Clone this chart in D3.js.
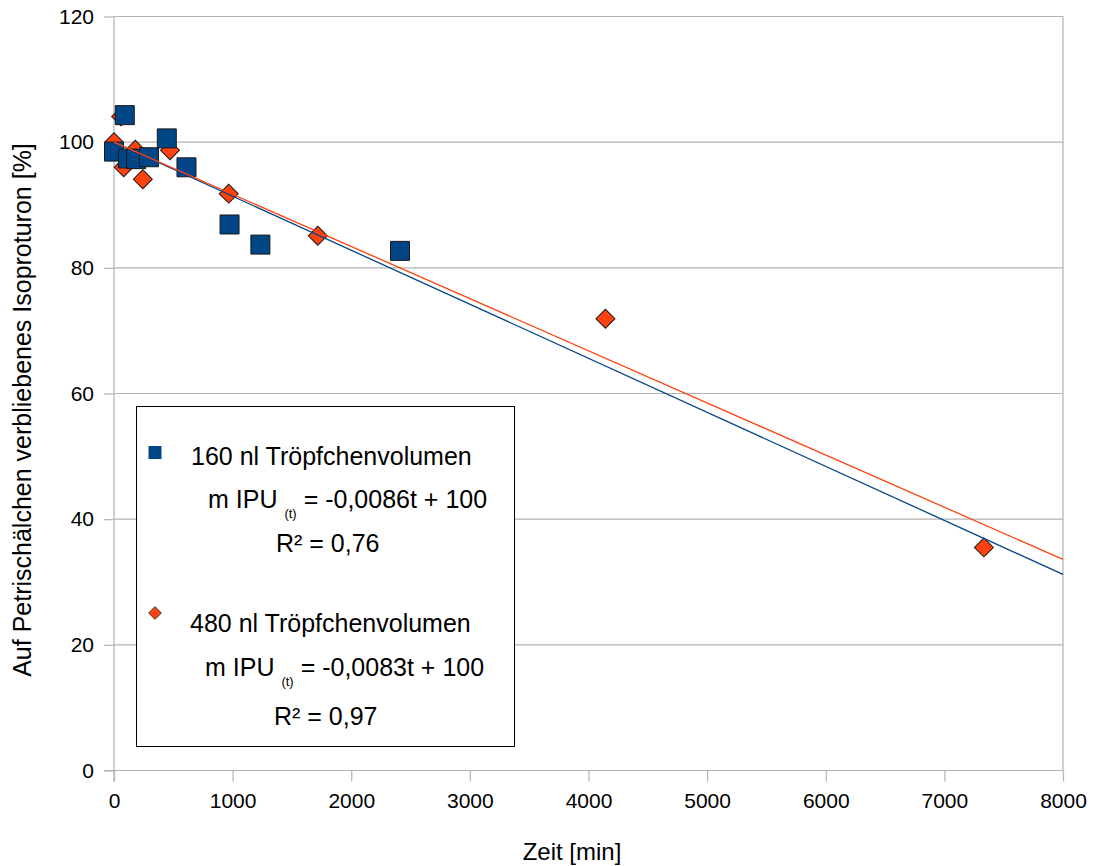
<!DOCTYPE html>
<html>
<head>
<meta charset="utf-8">
<script src="https://cdn.jsdelivr.net/npm/d3@7"></script>
<style>
  html, body { margin: 0; padding: 0; background: #fff; }
  svg { display: block; font-family: "Liberation Sans", Arial, sans-serif; }
  text { fill: #000; }
</style>
</head>
<body>
<svg id="chart" width="1093" height="866"></svg>
<script>
// Isoproturon remaining on Petri dishes over time, two droplet volumes
const timeBlue   = [0, 91, 118, 187, 295, 445, 611, 974, 1234, 2411];
const valueBlue  = [98.5, 104.3, 97.4, 97.3, 97.6, 100.6, 96.0, 86.9, 83.7, 82.7];
const timeOrange  = [60, 0, 82, 180, 243, 472, 967, 1718, 4143, 7333];
const valueOrange = [104.1, 100.0, 96.0, 98.8, 94.1, 98.7, 91.8, 85.1, 71.9, 35.5];

// Linear fits m(t) = slope * t + intercept
const slopeBlue = -0.0086, slopeOrange = -0.0083, intercept = 100;

const xTicks = [0, 1000, 2000, 3000, 4000, 5000, 6000, 7000, 8000];
const yTicks = [0, 20, 40, 60, 80, 100, 120];

const seriesNames = ["160 nl Tröpfchenvolumen", "480 nl Tröpfchenvolumen"];
const fitLabels = ["= -0,0086t + 100", "= -0,0083t + 100"];
const r2Labels = ["R² = 0,76", "R² = 0,97"];

const blue = "#004586", orange = "#ff420e", grid = "#b3b3b3";

const svg = d3.select("#chart");
const plotLeft = 114, plotRight = 1063, plotTop = 16.5, plotBottom = 770.5;

const x = d3.scaleLinear().domain([0, 8000]).range([plotLeft, plotRight]);
const y = d3.scaleLinear().domain([0, 120]).range([plotBottom, plotTop]);

// Horizontal grid lines
svg.append("g")
  .selectAll("line")
  .data(yTicks)
  .join("line")
  .attr("x1", plotLeft).attr("x2", plotRight)
  .attr("y1", d => y(d)).attr("y2", d => y(d))
  .attr("stroke", grid).attr("stroke-width", 1.2);

// Right side of the frame
svg.append("line").attr("x1", plotRight).attr("x2", plotRight)
  .attr("y1", plotTop).attr("y2", plotBottom)
  .attr("stroke", grid).attr("stroke-width", 1.2);

// Axes
const yAxis = d3.axisLeft(y).tickValues(yTicks).tickSize(10).tickPadding(10);
const gy = svg.append("g").attr("transform", `translate(${plotLeft},0)`).call(yAxis);
const xAxis = d3.axisBottom(x).tickValues(xTicks).tickFormat(d3.format("d"))
  .tickSize(11).tickPadding(12);
const gx = svg.append("g").attr("transform", `translate(0,${plotBottom})`).call(xAxis);

[gx, gy].forEach(g => {
  g.select(".domain").attr("stroke", grid).attr("stroke-width", 1.2);
  g.selectAll(".tick line").attr("stroke", grid).attr("stroke-width", 1.2);
  g.selectAll(".tick text")
    .attr("fill", "#000")
    .style("font-family", "'Liberation Sans', Arial, sans-serif")
    .style("font-size", "21px");
});
gy.select(".domain").attr("d", `M0,${plotTop}V${plotBottom + 11}`);
gx.select(".domain").attr("d", `M${plotLeft - 10},0H${plotRight}`);

// Axis titles
svg.append("text")
  .attr("x", 572).attr("y", 860)
  .attr("text-anchor", "middle")
  .style("font-size", "24px")
  .text("Zeit [min]");

svg.append("text")
  .attr("transform", "translate(31,410) rotate(-90)")
  .attr("text-anchor", "middle")
  .style("font-size", "25px")
  .text("Auf Petrischälchen verbliebenes Isoproturon [%]");

// Markers
const squareSym = d3.symbol().type(d3.symbolSquare).size(19 * 19);
const diamondSym = d3.symbol().type(d3.symbolSquare).size(13.4 * 13.4);

const orangePts = timeOrange.map((t, i) => ({ t, v: valueOrange[i] }));
const bluePts = timeBlue.map((t, i) => ({ t, v: valueBlue[i] }));

svg.append("g")
  .selectAll("path")
  .data(orangePts)
  .join("path")
  .attr("d", diamondSym)
  .attr("transform", d => `translate(${x(d.t)},${y(d.v)}) rotate(45)`)
  .attr("fill", orange)
  .attr("stroke", "#1a1a1a").attr("stroke-width", 1);

svg.append("g")
  .selectAll("path")
  .data(bluePts)
  .join("path")
  .attr("d", squareSym)
  .attr("transform", d => `translate(${x(d.t)},${y(d.v)})`)
  .attr("fill", blue)
  .attr("stroke", "#1a1a1a").attr("stroke-width", 1);

// Trend lines
const line = d3.line().x(d => x(d.t)).y(d => y(d.v));
const fitPoints = slope => [0, 8000].map(t => ({ t, v: slope * t + intercept }));

svg.append("path").datum(fitPoints(slopeBlue))
  .attr("d", line).attr("fill", "none")
  .attr("stroke", blue).attr("stroke-width", 1.3);
svg.append("path").datum(fitPoints(slopeOrange))
  .attr("d", line).attr("fill", "none")
  .attr("stroke", orange).attr("stroke-width", 1.3);

// Legend
const lg = svg.append("g");
lg.append("rect")
  .attr("x", 136.5).attr("y", 406.5).attr("width", 378).attr("height", 340)
  .attr("fill", "#fff").attr("stroke", "#000").attr("stroke-width", 1);

const legendRows = [
  { sym: d3.symbol().type(d3.symbolSquare).size(13 * 13), rot: 0, color: blue, my: 452.5,
    name: seriesNames[0], nameX: 191, nameY: 465,
    fitX: 208, fitY: 508, fit: fitLabels[0],
    r2X: 276, r2Y: 552, r2: r2Labels[0] },
  { sym: d3.symbol().type(d3.symbolSquare).size(9 * 9), rot: 45, color: orange, my: 613,
    name: seriesNames[1], nameX: 190, nameY: 632,
    fitX: 205, fitY: 676, fit: fitLabels[1],
    r2X: 274, r2Y: 725, r2: r2Labels[1] }
];

legendRows.forEach(r => {
  lg.append("path")
    .attr("d", r.sym)
    .attr("transform", `translate(155,${r.my}) rotate(${r.rot})`)
    .attr("fill", r.color)
    .attr("stroke", r.rot ? "#1a1a1a" : "none").attr("stroke-width", 0.8);

  lg.append("text").attr("x", r.nameX).attr("y", r.nameY)
    .style("font-size", "25px").text(r.name);

  const ft = lg.append("text").attr("x", r.fitX).attr("y", r.fitY)
    .style("font-size", "25px");
  ft.append("tspan").text("m IPU ");
  ft.append("tspan").attr("dy", 10).style("font-size", "13px").attr("fill", "#000").text("(t)");
  ft.append("tspan").attr("dy", -10).text(" " + r.fit);

  lg.append("text").attr("x", r.r2X).attr("y", r.r2Y)
    .style("font-size", "25px").text(r.r2);
});
</script>
</body>
</html>
